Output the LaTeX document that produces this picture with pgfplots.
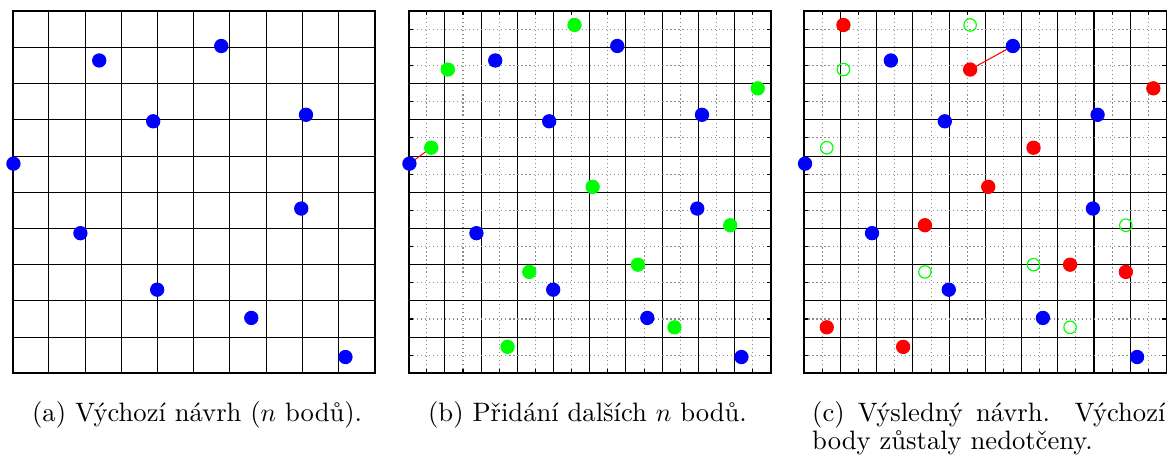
\documentclass[border=0pt]{standalone}
\usepackage{fontspec}
\usepackage{pgfplots}
\pgfplotsset{compat=1.18}

\definecolor{pblue}{RGB}{0,0,255}
\definecolor{pgreen}{RGB}{0,255,0}
\definecolor{pred}{RGB}{255,0,0}

% initial design (n points)
\pgfplotstableread{
x y
2.39 8.64
5.76 9.04
3.88 6.96
8.10 7.14
0.02 5.79
7.97 4.55
1.87 3.87
3.99 2.31
6.59 1.53
9.19 0.45
}\initial

% candidate points added in the second step
\pgfplotstableread{
x y
4.58 9.62
1.08 8.39
9.64 7.87
0.62 6.23
5.08 5.15
8.88 4.09
6.33 3.00
3.33 2.80
7.34 1.27
2.73 0.73
}\added

% resulting new points
\pgfplotstableread{
x y
1.08 9.62
4.58 8.39
9.64 7.87
6.33 6.23
5.08 5.15
3.33 4.09
7.34 3.00
8.88 2.80
0.62 1.27
2.73 0.73
}\final

\pgfplotsset{
  design/.style={
    scale only axis, width=139.4pt, height=139.4pt,
    anchor=south west,
    xmin=0, xmax=10, ymin=0, ymax=10,
    xtick={0,1,2,3,4,5,6,7,8,9,10}, ytick={0,1,2,3,4,5,6,7,8,9,10},
    xticklabel=\empty, yticklabel=\empty,
    grid=major,
    major grid style={black, line width=0.4pt},
    axis line style={black, line width=0.65pt},
    tick style={black, line width=0.4pt},
    major tick length=1.6pt, minor tick length=1.6pt,
    tick align=inside,
    clip=false,
  },
  halfgrid/.style={
    minor xtick={0.5,1.5,...,9.5}, minor ytick={0.5,1.5,...,9.5},
    grid=both,
    minor grid style={black!45, line width=0.4pt, dash pattern=on 0.45pt off 1.1pt},
  },
  dot/.style={only marks, mark=*, mark size=2.55pt, draw=#1, fill=#1},
  ring/.style={only marks, mark=o, mark size=2.4pt, draw=#1, line width=0.45pt},
}

\begin{document}
\begin{tikzpicture}
% (a)
\begin{axis}[design, at={(4.89pt,32.22pt)}]
  \addplot[dot=pblue] table {\initial};
\end{axis}
% (b)
\begin{axis}[design, halfgrid, at={(157.35pt,32.22pt)}]
  \addplot[dot=pblue] table {\initial};
  \addplot[dot=pgreen] table {\added};
  \addplot[pred, line width=0.4pt] coordinates {(0.02,5.79) (0.62,6.23)};
\end{axis}
% (c)
\begin{axis}[design, halfgrid, at={(309.66pt,32.22pt)}]
  \addplot[dot=pblue] table {\initial};
  \addplot[ring=pgreen] table {\added};
  \addplot[dot=pred] table {\final};
  \addplot[pred, line width=0.4pt] coordinates {(4.58,8.39) (5.76,9.04)};
\end{axis}

\node[anchor=base, inner sep=0pt, font=\fontsize{10.25pt}{12pt}\selectfont] at (75.9pt,13.85pt)
  {(a) Výchozí návrh ($n$ bodů).};
\node[anchor=base, inner sep=0pt, font=\fontsize{10.25pt}{12pt}\selectfont] at (226.19pt,13.85pt)
  {(b) Přidání dalších $n$ bodů.};
\node[anchor=base west, inner sep=0pt, text width=136pt, align=justify,
      font=\fontsize{10.25pt}{9.6pt}\selectfont] at (312.5pt,13.85pt)
  {(c) Výsledný návrh. Výchozí body zůstaly nedotčeny.};

\pgfresetboundingbox
\useasboundingbox (0,0) rectangle (449.68pt,175.95pt);
\end{tikzpicture}
\end{document}
